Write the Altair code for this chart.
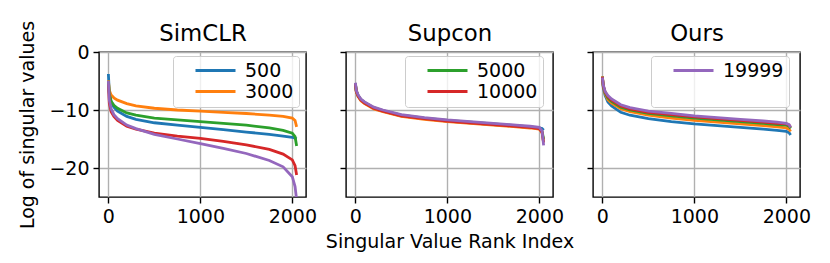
import altair as alt
import pandas as pd

# rank index sample positions
rank = [0, 10, 30, 60, 100, 200, 300, 500, 750, 1000, 1250, 1500, 1750, 1900, 2000, 2030, 2047]
runs = ["500", "3000", "5000", "10000", "19999"]
colors = ["#1f77b4", "#ff7f0e", "#2ca02c", "#d62728", "#9467bd"]

simclr = {
    "500":   [-3.8, -7.0, -8.6, -9.5, -10.2, -11.1, -11.6, -12.2, -12.6, -13.0, -13.4, -13.8, -14.2, -14.5, -14.7, -14.85, -15.0],
    "3000":  [-4.9, -6.6, -7.4, -7.9, -8.3, -8.9, -9.3, -9.7, -10.0, -10.2, -10.4, -10.6, -10.9, -11.1, -11.4, -11.8, -12.9],
    "5000":  [-5.0, -7.2, -8.5, -9.2, -9.7, -10.5, -10.9, -11.4, -11.7, -12.0, -12.3, -12.6, -13.1, -13.5, -14.0, -14.6, -16.2],
    "10000": [-5.5, -8.8, -10.3, -11.1, -11.8, -12.8, -13.3, -14.0, -14.5, -14.9, -15.4, -16.0, -16.8, -17.6, -18.6, -19.6, -21.2],
    "19999": [-5.0, -8.3, -9.8, -10.8, -11.5, -12.6, -13.2, -14.2, -15.0, -15.8, -16.6, -17.5, -18.7, -19.8, -21.5, -23.2, -25.5],
}
supcon = {
    "500":   [-5.5, -6.8, -7.6, -8.3, -8.8, -9.7, -10.2, -11.0, -11.5, -11.9, -12.2, -12.5, -12.8, -13.0, -13.1, -13.2, -13.5],
    "3000":  [-5.6, -6.9, -7.7, -8.4, -8.9, -9.8, -10.3, -11.1, -11.6, -12.0, -12.3, -12.6, -12.9, -13.1, -13.3, -13.9, -15.6],
    "5000":  [-5.4, -6.7, -7.5, -8.2, -8.7, -9.6, -10.1, -10.9, -11.4, -11.8, -12.1, -12.4, -12.7, -12.9, -13.1, -13.7, -15.0],
    "10000": [-5.5, -6.8, -7.6, -8.3, -8.8, -9.7, -10.2, -11.0, -11.5, -11.9, -12.2, -12.5, -12.8, -13.0, -13.2, -13.8, -15.6],
    "19999": [-5.3, -6.6, -7.4, -8.1, -8.6, -9.5, -10.0, -10.8, -11.3, -11.7, -12.0, -12.3, -12.6, -12.8, -13.0, -13.6, -16.1],
}
ours = {
    "500":   [-4.2, -6.2, -7.5, -8.6, -9.3, -10.4, -10.9, -11.5, -12.0, -12.4, -12.7, -13.0, -13.3, -13.5, -13.7, -13.9, -14.3],
    "3000":  [-4.2, -6.0, -7.2, -8.2, -8.8, -9.8, -10.3, -10.9, -11.4, -11.8, -12.1, -12.4, -12.7, -12.9, -13.1, -13.3, -13.7],
    "5000":  [-4.3, -5.9, -7.0, -7.9, -8.5, -9.5, -10.0, -10.6, -11.0, -11.4, -11.7, -12.0, -12.3, -12.5, -12.6, -12.8, -13.2],
    "10000": [-4.3, -5.8, -6.9, -7.7, -8.3, -9.3, -9.8, -10.4, -10.8, -11.2, -11.5, -11.8, -12.1, -12.3, -12.4, -12.6, -13.0],
    "19999": [-4.4, -5.7, -6.8, -7.5, -8.1, -9.1, -9.6, -10.2, -10.6, -11.0, -11.3, -11.6, -11.9, -12.1, -12.3, -12.5, -13.0],
}

panels = [
    ("SimCLR", simclr, ["500", "3000"], 74),
    ("Supcon", supcon, ["5000", "10000"], 59),
    ("Ours", ours, ["19999", " "], 58),
]

FONT = "DejaVu Sans"
color_scale = alt.Scale(domain=runs + [" "], range=colors + ["transparent"])


def panel(i, name, series, legend_vals, lx):
    rows = []
    for k, r in enumerate(runs):
        for x, v in zip(rank, series[r]):
            rows.append({"rank": x, "val": v, "run": r, "order": k})
    df = pd.DataFrame(rows)
    xscale = alt.Scale(domain=[-102, 2149], nice=False, zero=False)
    yaxis = alt.Axis(values=[0, -10, -20], format="d",
                     title="Log of singular values" if i == 0 else None,
                     labels=(i == 0), grid=True)
    xaxis = alt.Axis(values=[0, 1000, 2000], format="d",
                     title="Singular Value Rank Index" if i == 1 else None, grid=True)
    legend = alt.Legend(
        values=legend_vals, orient="none", legendX=lx, legendY=4, title=None,
        labelFontSize=19, labelFont=FONT, labelColor="black",
        symbolType="M-5,0H5", symbolSize=64, symbolStrokeWidth=2.8,
        symbolOffset=28, labelOffset=20, padding=5, rowPadding=1,
        fillColor="rgba(255,255,255,0.8)", strokeColor="#cccccc", cornerRadius=3,
    )
    base = alt.Chart(df).encode(
        y=alt.Y("val:Q", scale=alt.Scale(domain=[-25, 0], nice=False), axis=yaxis),
    )
    lines = base.mark_line(strokeWidth=2.8, clip=True).encode(
        x=alt.X("rank:Q", scale=xscale, axis=xaxis),
        color=alt.Color("run:N", scale=color_scale, legend=legend),
        detail="order:O",
        order=alt.Order("rank:Q"),
    )
    top = base.mark_point(opacity=0, clip=True).encode(
        x=alt.X("rank:Q", scale=xscale,
                axis=alt.Axis(orient="top", title=name, labels=False, ticks=False,
                              domain=False, grid=False, titlePadding=12,
                              titleFontSize=22.8, titleBaseline="alphabetic")),
    )
    return alt.layer(lines, top).resolve_axis(x="independent").properties(width=207, height=145)


charts = [panel(i, *p) for i, p in enumerate(panels)]
chart = alt.hconcat(*charts, spacing=40, bounds="flush").resolve_scale(
    color="independent", x="independent", y="independent"
).resolve_legend(color="independent").configure(
    padding={"left": 10, "top": 11, "right": 0, "bottom": 0},
    font=FONT,
).configure_view(
    stroke="black", strokeWidth=1.4
).configure_axis(
    domain=False, tickColor="black", tickWidth=1.4, tickSize=6, labelPadding=4,
    labelFont=FONT, labelFontSize=19, labelColor="black",
    titleFont=FONT, titleFontSize=19, titleFontWeight="normal", titleColor="black",
    gridColor="#b0b0b0", gridWidth=1.4,
).configure_axisLeft(titlePadding=11).configure_axisBottom(titlePadding=6)

chart.save("out.html", embed_options={"renderer": "svg", "actions": False})
